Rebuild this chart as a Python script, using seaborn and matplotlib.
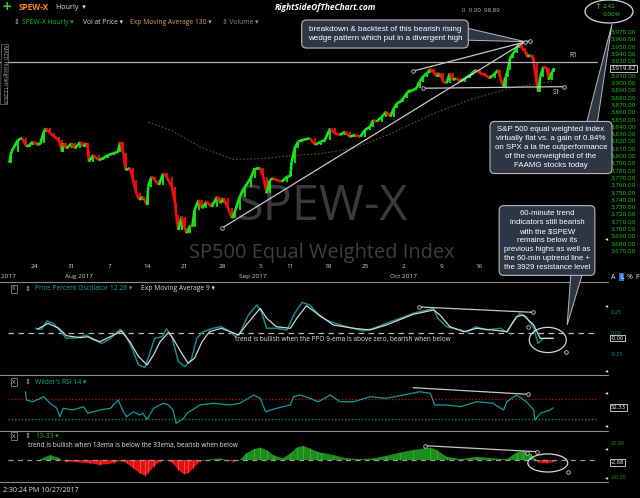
import matplotlib
matplotlib.use("Agg")
import matplotlib.pyplot as plt
from matplotlib.lines import Line2D
from matplotlib.patches import Ellipse, Polygon
import matplotlib.transforms as mtransforms
import numpy as np
import pandas as pd
import seaborn as sns

sns.set_theme(style="dark")
plt.rcParams['font.family'] = ['Open Sans', 'DejaVu Sans']
plt.rcParams['axes.facecolor'] = 'black'
plt.rcParams['figure.facecolor'] = 'black'

# ---------------------------------------------------------------
# SPEW-X hourly, Jul 18 - Oct 27 2017.
# Time axis: hourly bar number counted from the Jul 24 open
# (7 bars per session, holidays and nights removed).
# ---------------------------------------------------------------
price_bar = [-23, -21, -15, -11, -7, -4, -1, 3, 6, 9,
             11, 15, 19, 23, 26, 27, 30, 35, 38, 43,
             46, 49, 50, 51, 55, 60, 64, 69, 74, 78,
             80, 83, 85, 89, 92, 95, 98, 101, 105, 106,
             109, 112, 116, 120, 123, 128, 131, 132, 134, 137,
             140, 142, 145, 147, 149, 153, 156, 160, 165, 170,
             173, 176, 180, 184, 187, 191, 196, 201, 205, 210,
             213, 216, 219, 222, 225, 230, 235, 238, 239, 242,
             245, 249, 256, 261, 266, 270, 275, 279, 284, 289,
             293, 298, 303, 307, 312, 315, 318, 323, 327, 331,
             334, 337, 340, 343, 346, 349, 352, 355, 358, 361,
             365, 368, 371, 374, 377, 380, 383, 386, 389, 392,
             396, 400, 405, 408, 411, 414, 419, 423, 428, 431,
             433, 436, 438, 440, 442, 445, 448, 450, 453, 456,
             458, 461, 463, 464, 467, 468, 470, 473, 476, 478,
             481, 483]
price_close = [3790.5, 3805.6, 3821.6, 3824, 3812.5, 3815, 3819.3, 3815, 3817, 3833,
               3837.6, 3830.8, 3826, 3821.6, 3805.6, 3817, 3810, 3817, 3810, 3819,
               3812.5, 3817, 3808, 3792, 3801, 3794, 3796.6, 3801, 3803.4, 3805.6,
               3819, 3803.4, 3780.5, 3783, 3767, 3748.6, 3739.5, 3744, 3732.6, 3757.7,
               3771.4, 3767, 3760, 3776, 3771.4, 3757.7, 3735, 3719, 3698.4, 3716.6,
               3700.7, 3693.8, 3705, 3703, 3725.7, 3739.5, 3728, 3737, 3730, 3744,
               3735, 3742, 3728, 3714.4, 3725.7, 3744, 3757.7, 3769, 3783, 3783,
               3771.4, 3748.6, 3767, 3769, 3767, 3764.5, 3771.4, 3772, 3790, 3810,
               3819, 3821.6, 3824, 3815, 3819, 3821.6, 3837.6, 3830.8, 3828.5, 3833,
               3826, 3828.5, 3826, 3835, 3840, 3849, 3846.7, 3853.6, 3860.4, 3853.6,
               3865, 3872, 3874, 3878.8, 3885.6, 3890, 3890, 3892.5, 3901.5, 3908.4,
               3913, 3918.5, 3915, 3908.4, 3913, 3901.5, 3899.3, 3913, 3903.8, 3906,
               3901.5, 3906, 3910.7, 3915, 3917.5, 3913, 3910.7, 3906, 3913, 3917.5,
               3906, 3894.6, 3908.4, 3917.5, 3933.6, 3940.4, 3947.3, 3954, 3947.3, 3942.6,
               3935.8, 3938, 3933.6, 3926.7, 3897, 3888, 3908.4, 3922, 3920, 3903.8,
               3915, 3919.82]
last_change = 2.42
last_change_pct = 0.06

ema130_bar = [106, 129, 154, 185, 210, 238, 266, 296, 331, 368, 405, 442, 482]
ema130_val = [3846, 3834, 3812, 3795, 3796, 3800, 3803, 3810, 3830, 3856, 3877, 3893, 3902]

# Price Percent Oscillator 12,26 and its 9-period EMA
ppo_bar = [1, 7, 12, 18, 26, 30, 40, 49, 54, 63,
           71, 80, 84, 91, 97, 103, 108, 112, 119, 123,
           128, 134, 140, 146, 151, 157, 166, 174, 182, 187,
           191, 199, 207, 211, 216, 225, 235, 241, 249, 256,
           266, 275, 290, 306, 315, 327, 340, 352, 371, 375,
           383, 396, 402, 410, 420, 433, 439, 445, 451, 457,
           464, 468, 473, 479, 482]
ppo_val = [0.056, 0.044, 0.143, 0.115, -0.004, -0.064, -0.056, -0.024, -0.075, -0.123,
           -0.064, 0.044, -0.004, -0.182, -0.38, -0.41, -0.22, -0.064, -0.044, 0.048,
           -0.044, -0.34, -0.40, -0.32, -0.064, 0.016, 0.056, 0.075, 0.016, -0.044,
           -0.004, 0.214, 0.333, 0.254, 0.056, 0.056, 0.036, 0.214, 0.365, 0.333,
           0.194, 0.135, 0.075, 0.024, 0.056, 0.115, 0.175, 0.234, 0.294, 0.175,
           0.075, 0.036, 0.008, 0.075, 0.036, 0.056, 0.008, 0.135, 0.234, 0.194,
           0.056, -0.123, -0.064, -0.064, -0.06]
sig_bar = [3, 13, 23, 30, 43, 50, 61, 74, 81, 89,
           97, 105, 111, 117, 125, 129, 137, 143, 149, 156,
           163, 174, 182, 190, 197, 210, 216, 225, 238, 244,
           253, 264, 278, 297, 312, 327, 352, 371, 377, 386,
           399, 411, 426, 439, 448, 454, 464, 470, 482]
sig_val = [0.044, 0.115, 0.056, -0.032, -0.056, -0.044, -0.104, -0.024, 0.024, -0.104,
           -0.28, -0.38, -0.26, -0.104, 0.008, -0.064, -0.24, -0.36, -0.30, -0.104,
           0.016, 0.056, 0.016, -0.024, 0.095, 0.294, 0.175, 0.075, 0.056, 0.175,
           0.325, 0.22, 0.095, 0.056, 0.036, 0.095, 0.222, 0.274, 0.214, 0.075,
           0.016, 0.056, 0.036, 0.016, 0.194, 0.214, 0.095, -0.064, -0.064]

# Wilder's RSI 14
rsi_bar = [-8, -7, -1, 9, 15, 21, 24, 27, 36, 46,
           50, 61, 71, 78, 83, 86, 92, 98, 101, 105,
           111, 120, 125, 129, 132, 139, 142, 154, 166, 182,
           191, 204, 210, 215, 225, 238, 241, 247, 256, 264,
           275, 284, 297, 312, 327, 343, 358, 368, 372, 383,
           396, 411, 426, 436, 439, 448, 457, 464, 465, 470,
           479, 482]
rsi_val = [84.6, 68, 64.6, 74.6, 61.4, 52, 34.6, 51.4, 48, 54.6,
           41.4, 48, 51.4, 68, 44.6, 34.6, 44.6, 38, 41.4, 29.4,
           51.4, 61.4, 58, 48, 21.4, 31.4, 41.4, 58, 61.4, 58,
           61.4, 78, 71.4, 44.6, 51.4, 58, 74.6, 78, 71.4, 64.6,
           78, 64.6, 64.6, 74.6, 71.4, 78, 84.6, 81.4, 58, 58,
           54.6, 64.6, 61.4, 48, 64.6, 78, 64.6, 48, 28, 41.4,
           48, 52.33]

# 13-33 EMA spread histogram
osc_bar = [6, 15, 22, 26, 30, 52, 61, 74, 80, 86,
           92, 98, 103, 106, 111, 117, 123, 129, 134, 139,
           143, 148, 154, 160, 173, 179, 185, 191, 197, 204,
           210, 216, 222, 231, 238, 244, 250, 256, 263, 266,
           278, 290, 303, 315, 327, 340, 352, 368, 374, 383,
           396, 411, 426, 439, 448, 454, 461, 465, 468, 476,
           482]
osc_val = [1, 6, 3, 0, -2, -4, -6, -4, -1, -4,
           -10, -16, -19, -16, -8, -2, 0, -4, -12, -17,
           -16, -10, -2, 0, 2, -1, -2, 0, 8, 13,
           15, 12, 6, 2, 8, 15, 17, 14, 10, 9,
           6, 2, 1, 2, 5, 9, 12, 15, 12, 4,
           1, 4, 2, 1, 9, 11, 8, 2, -3, -4,
           -2.68]

# hand-drawn studies: (bar, value) end points
wedge_top = ([352, 460.5], [3916, 3957.7])
uptrend = ([174.6, 456], [3701, 3956.3])
support_s1 = ([361.4, 492], [3892.5, 3894.7])
resist_r1 = 3929
ppo_trend = ([357.5, 463.3], [0.31, 0.246])
rsi_trend = ([352, 459], [92.6, 79.4])
osc_trend = ([363, 467], [17.2, 10.0])

# trading calendar for the date axis
sessions = pd.bdate_range("2017-07-18", "2017-10-27")
sessions = sessions[sessions != pd.Timestamp("2017-09-04")]
anchor = list(sessions).index(pd.Timestamp("2017-07-24"))
last_week_label = pd.Timestamp("2017-10-16")

# ---------------------------------------------------------------
W, H = 640, 498
XMIN, XMAX = -31.6, 525.5
UP, DOWN = '#19e619', '#f01010'
WHITE = '#e6e6e6'
LINE = '#c8c8c8'

fig = plt.figure(figsize=(W / 100, H / 100), dpi=100)
fig.patch.set_facecolor('black')


def fx(px):
    return px / W


def fy(py):
    return 1 - py / H


def panel(top, bottom):
    ax = fig.add_axes([0, fy(bottom), 600 / W, (bottom - top) / H])
    ax.set_facecolor('black')
    for s in ax.spines.values():
        s.set_visible(False)
    ax.set_xlim(XMIN, XMAX)
    ax.grid(False)
    ax.tick_params(axis='x', bottom=False, labelbottom=False)
    ax.yaxis.tick_right()
    ax.tick_params(axis='y', length=0, left=False, right=False)
    return ax


def value_box(ax, val, text, fs=4.6):
    tr = mtransforms.blended_transform_factory(ax.transAxes, ax.transData)
    ax.text(1.018, val, text, transform=tr, ha='left', va='center', fontsize=fs,
            color='white', clip_on=False, zorder=10,
            bbox=dict(boxstyle='square,pad=0.15', fc='black', ec='#dcdcdc', lw=0.6))


def endpoint_line(ax, xs, ys, ends=True):
    ax.plot(xs, ys, color=LINE, lw=0.9, zorder=5)
    if ends:
        ax.plot(xs, ys, ls='none', marker='o', ms=2.6, mfc='black', mec=LINE, mew=0.6, zorder=6)


# ------------------------------ price panel
axp = panel(14, 282)
axp.set_ylim(3627.1, 3994.2)
pticks = np.arange(3670, 3971, 10)
axp.set_yticks(pticks)
axp.set_yticklabels([f"{v:,.2f}" for v in pticks])
axp.tick_params(axis='y', labelsize=4.6, labelcolor='#1ed21e', pad=7.5)

axp.text(0.537, 0.28, "SPEW-X", transform=axp.transAxes, ha='center', va='center',
         fontsize=35, color='#3a3a3a', zorder=0)
axp.text(0.537, 0.11, "SP500 Equal Weighted Index", transform=axp.transAxes,
         ha='center', va='center', fontsize=14.4, color='#3e3e3e', zorder=0)

sns.lineplot(x=ema130_bar, y=ema130_val, ax=axp, color='#5e4b25', lw=0.8,
             linestyle=(0, (1.6, 1.6)), zorder=2)

# hourly candles: each close drawn against the one before it
for i in range(1, len(price_bar)):
    c0, c1 = price_close[i - 1], price_close[i]
    axp.plot([price_bar[i - 1], price_bar[i]], [c0, c1], color=UP if c1 >= c0 else DOWN,
             lw=1.9, solid_capstyle='butt', zorder=3)
    axp.vlines(price_bar[i], min(c0, c1), max(c0, c1), color=UP if c1 >= c0 else DOWN,
               lw=1.3, zorder=3)

axp.plot([XMIN, 522.7], [resist_r1, resist_r1], color='#b4b4b4', lw=0.9, zorder=4)
axp.text(500.5, resist_r1 + 3, "R1", color=WHITE, fontsize=4.8, ha='center', va='bottom')
endpoint_line(axp, *wedge_top)
endpoint_line(axp, *uptrend)
endpoint_line(axp, *support_s1)
axp.text(484.7, support_s1[1][1] - 3.5, "S1", color=WHITE, fontsize=4.8, ha='center', va='top')
value_box(axp, price_close[-1], f"{price_close[-1]:,.2f}")

# date axis
tb = mtransforms.blended_transform_factory(axp.transData, axp.transAxes)
prev = None
for k, d in enumerate(sessions):
    bar = (k - anchor) * 7
    new_week = prev is None or d.weekday() < prev.weekday()
    if pd.Timestamp("2017-07-24") <= d <= last_week_label and new_week:
        axp.text(bar, 0.056, str(d.day), transform=tb, ha='center', va='center',
                 fontsize=4.6, color='#d6d6d6')
    if prev is None or d.month != prev.month:
        axp.text(bar, 0.022, d.strftime("%b %Y"), transform=tb, ha='center', va='center',
                 fontsize=4.6, color='#d6d6d6', clip_on=False)
    prev = d

# ------------------------------ PPO panel
axo = panel(282, 375)
axo.set_ylim(-0.5, 0.607)
axo.set_yticks([0.25, 0.0, -0.25])
axo.set_yticklabels(["0.25", "0.00", "-0.25"])
axo.tick_params(axis='y', labelsize=4.0, labelcolor='#1a9090', pad=7.5)
axo.plot([-24, 522.7], [0, 0], color='#bcbcbc', lw=0.9, dashes=(4.5, 3.5), zorder=1)
sns.lineplot(x=ppo_bar, y=ppo_val, ax=axo, color='#168a8a', lw=1.1, zorder=3)
sns.lineplot(x=sig_bar, y=sig_val, ax=axo, color='#d4d4d4', lw=0.9, zorder=4)
endpoint_line(axo, *ppo_trend)
axo.add_patch(Ellipse((477, -0.083), 34.4, 0.30, fc='none', ec='#d8d8d8', lw=0.9, zorder=6))
axo.plot([459, 494], [0.075, -0.23], ls='none', marker='o', ms=2.6, mfc='black',
         mec=LINE, mew=0.6, zorder=6)
axo.text(0.392, 0.385, "trend is bullish when the PPO 9-ema is above zero, bearish when below",
         transform=axo.transAxes, ha='left', va='center', fontsize=4.7, color=WHITE)
value_box(axo, ppo_val[-1], f"{ppo_val[-1]:.2f}", fs=4.2)

# ------------------------------ RSI panel
axr = panel(375, 431)
axr.set_ylim(6, 118)
axr.set_yticks([])
axr.plot([-24, 522.7], [70, 70], color='#b01010', lw=1.0, ls=(0, (1, 1.4)), zorder=1)
axr.plot([-24, 522.7], [30, 30], color='#139a13', lw=1.0, ls=(0, (1, 1.4)), zorder=1)
sns.lineplot(x=rsi_bar, y=rsi_val, ax=axr, color='#169a9a', lw=0.9, zorder=3)
axr.plot(*rsi_trend, color=LINE, lw=0.9, zorder=5)
axr.plot(rsi_trend[0][1], rsi_trend[1][1], marker='o', ms=2.6, mfc='black', mec=LINE,
         mew=0.6, zorder=6)
value_box(axr, rsi_val[-1], f"{rsi_val[-1]:.2f}", fs=4.2)

# ------------------------------ 13-33 panel
axh = panel(431, 482)
axh.set_ylim(-26.5, 34.9)
axh.set_yticks([20, -20])
axh.set_yticklabels(["20.00", "-20.00"])
axh.tick_params(axis='y', labelsize=4.0, labelcolor='#129612', pad=7.5)
ob = np.array(osc_bar, dtype=float)
ov = np.array(osc_val, dtype=float)
axh.fill_between(ob, ov, 0, where=ov >= 0, interpolate=True, color='#1c8c1c', lw=0, zorder=2)
axh.fill_between(ob, ov, 0, where=ov <= 0, interpolate=True, color='#e01212', lw=0, zorder=2)
axh.vlines(ob, 0, ov, colors=['#3fbf3f' if v >= 0 else '#ff5a5a' for v in ov],
           lw=0.5, zorder=2.5)
axh.plot([-24, 522.7], [0, 0], color='#9a9a9a', lw=0.9, dashes=(4, 3.5), zorder=3)
endpoint_line(axh, *osc_trend)
axh.add_patch(Ellipse((477, -3.6), 37, 21.7, fc='none', ec='#d8d8d8', lw=0.9, zorder=6))
axh.plot([457.5, 496], [8, -15], ls='none', marker='o', ms=2.6, mfc='black', mec=LINE,
         mew=0.6, zorder=6)
axh.text(0.047, 0.71, "trend is bullish when 13ema is below the 33ema, bearish when below",
         transform=axh.transAxes, ha='left', va='center', fontsize=4.7, color=WHITE)
value_box(axh, osc_val[-1], f"{osc_val[-1]:.2f}", fs=4.2)

# ------------------------------ panel separators
for yy in (282, 375, 431, 482):
    fig.add_artist(Line2D([0, fx(608)], [fy(yy), fy(yy)], color='#8c8c8c', lw=0.8))
for yy in (239, 306, 371, 393, 426, 449, 478):
    fig.text(fx(607), fy(yy), "\u25c2", fontsize=4.5, color='#d0d0d0', ha='center',
             va='center', family=['DejaVu Sans'])

# ------------------------------ header rows
fig.text(fx(7), fy(7), "+", fontsize=9, fontweight='bold', color='#33cc33',
         ha='center', va='center', family=['DejaVu Sans'])
fig.text(fx(19), fy(7.5), "SPEW-X", fontsize=5.9, fontweight='bold', color='#ff8c1a',
         ha='left', va='center')
fig.text(fx(56), fy(7.5), "Hourly  \u25be", fontsize=5.1, color=WHITE, ha='left', va='center')
fig.text(fx(325), fy(7.5), "RightSideOfTheChart.com", fontsize=6.0, fontweight='bold',
         fontstyle='italic', color='white', ha='center', va='center')
fig.text(fx(462), fy(10), "0  0.00  98.89", fontsize=4.4, color='#bdbdbd', ha='left',
         va='center')

row2 = [(14, "\u21d5", '#bbbbbb'), (22, "SPEW-X Hourly \u25be", '#22c022'),
        (83, "Vol at Price \u25be", '#dddddd'), (130, "Exp Moving Average 130 \u25be", '#dba260'),
        (222, "\u21d5 Volume \u25be", '#8c8c8c')]
for px, s, c in row2:
    fig.text(fx(px), fy(22), s, fontsize=4.9, color=c, ha='left', va='center')

fig.text(fx(4), fy(74), "MACD Histogram 12,26,9", fontsize=3.6, color='#bbbbbb',
         rotation=270, ha='center', va='center',
         bbox=dict(boxstyle='square,pad=0.2', fc='black', ec='#777777', lw=0.5))

for py, parts in ((289, [(35, "Price Percent Oscillator 12 26 \u25be", '#1fa3a3'),
                         (141, "Exp Moving Average 9 \u25be", '#dddddd')]),
                  (382, [(35, "Wilder's RSI 14 \u25be", '#1fa3a3')]),
                  (436, [(36, "13-33 \u25be", '#22b022')])):
    fig.text(fx(14), fy(py), "X", fontsize=4.2, color='#cccccc', ha='center', va='center',
             bbox=dict(boxstyle='square,pad=0.25', fc='black', ec='#9a9a9a', lw=0.5))
    fig.text(fx(28), fy(py), "\u21d5", fontsize=5, color='#bbbbbb', ha='center', va='center')
    for px, s, c in parts:
        fig.text(fx(px), fy(py), s, fontsize=4.9, color=c, ha='left', va='center')

# net change in the top-right corner
fig.text(fx(598), fy(6.5), "\u2191", fontsize=6, color='#2bd02b', ha='center', va='center',
         family=['DejaVu Sans'])
fig.text(fx(603), fy(6), f"{last_change:.2f}", fontsize=4.6, color='#2bd02b', ha='left',
         va='center')
fig.text(fx(603), fy(14), f"{last_change_pct:.2f}%", fontsize=4.6, color='#2bd02b',
         ha='left', va='center')
fig.text(fx(632), fy(14), "-", fontsize=4.6, color=WHITE, ha='center', va='center')
fig.add_artist(Ellipse((fx(609), fy(11.5)), 48 / W, 23 / H, transform=fig.transFigure,
                       fc='none', ec='#d8d8d8', lw=0.9))

fig.text(fx(611), fy(277), "A", fontsize=5, color=WHITE, ha='left', va='center')
fig.text(fx(620), fy(277), "L", fontsize=5, color='white', ha='left', va='center',
         bbox=dict(boxstyle='square,pad=0.1', fc='#2a6fd0', ec='none'))
fig.text(fx(627), fy(277), "%", fontsize=5, color=WHITE, ha='left', va='center')
fig.text(fx(635), fy(277), "F", fontsize=5, color=WHITE, ha='left', va='center')

fig.text(fx(3), fy(490), "2:30:24 PM 10/27/2017", fontsize=5.0, color=WHITE, ha='left',
         va='center')

# ------------------------------ call-out boxes
to_fig = fig.transFigure.inverted()


def data_to_fig(ax, x, y):
    return to_fig.transform(ax.transData.transform((x, y)))


def tail(base1, base2, tip):
    fig.add_artist(Polygon([base1, tip, base2], closed=True, transform=fig.transFigure,
                           fc='#2d3644', ec='#b8b8b8', lw=0.7, zorder=20))


box_kw = dict(boxstyle='round,pad=0.6,rounding_size=0.6', fc='#2d3644', ec='#b8b8b8', lw=0.8)
box_font = ['Liberation Sans', 'DejaVu Sans']

tail((fx(458), fy(26)), (fx(460), fy(40)), data_to_fig(axp, uptrend[0][1], uptrend[1][1]))
tail((fx(586), fy(125)), (fx(597), fy(125)), (fx(612), fy(24)))
tail((fx(571), fy(272)), (fx(583), fy(272)), data_to_fig(axo, 495, 0.095))

fig.text(fx(385), fy(34), "breakdown & backtest of this bearish rising\n"
         "wedge pattern which put in a divergent high", fontsize=5.8, color='white',
         ha='center', va='center', linespacing=1.4, family=box_font,
         bbox=dict(box_kw, boxstyle='round,pad=0.75,rounding_size=0.6'), zorder=21)
fig.text(fx(551), fy(147.5), "S&P 500 equal weighted index\nvirtually flat vs. a gain of 0.84%\n"
         "on SPX a la the outperformance\nof the overweighted of the\nFAAMG stocks today",
         fontsize=5.7, color='white', ha='center', va='center', linespacing=1.38,
         family=box_font, bbox=box_kw, zorder=21)
fig.text(fx(547), fy(240.5), "60-minute trend\nindicators still bearish\nwith the \\$SPEW\n"
         "remains below its\nprevious highs as well as\nthe 60-min uptrend line +\n"
         "the 3929 resistance level", fontsize=5.6, color='white', ha='center', va='center',
         linespacing=1.38, family=box_font, bbox=box_kw, zorder=21)

fig.savefig("out.png", dpi=100, facecolor='black')
